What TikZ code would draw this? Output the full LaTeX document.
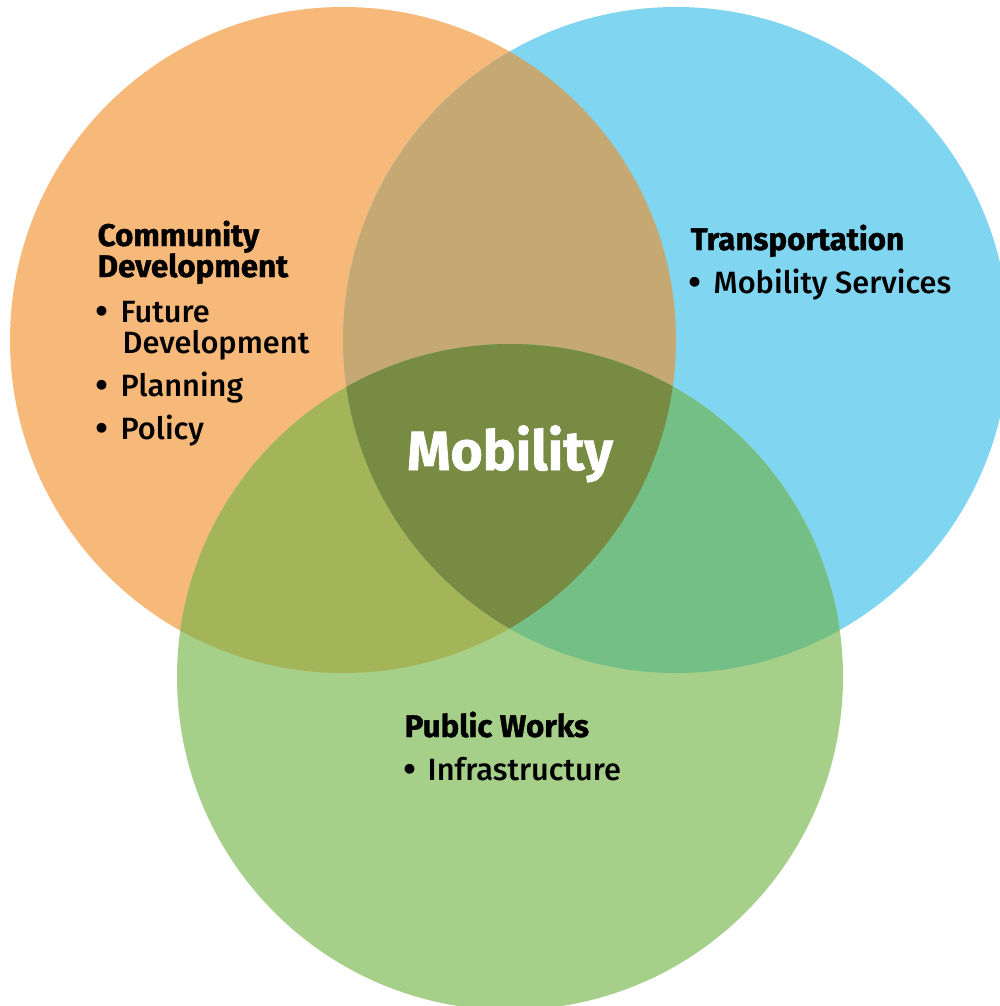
\documentclass[tikz,border=0pt]{standalone}
\usepackage{fontspec}
\setmainfont{Fira Sans}[UprightFont=* Medium, BoldFont=* Bold, BoldFeatures={FakeBold=1.2}]
\definecolor{commorange}{HTML}{F7B97A}
\definecolor{transblue}{HTML}{80D5F0}
\definecolor{worksgreen}{HTML}{A6D08A}
\definecolor{ctmix}{HTML}{C6A873}
\definecolor{cwmix}{HTML}{A4B458}
\definecolor{twmix}{HTML}{74BF86}
\definecolor{allmix}{HTML}{778B42}
\begin{document}
\begin{tikzpicture}[x=0.01cm,y=-0.01cm,
  head/.style={anchor=base west, inner sep=0pt, font=\fontsize{8.9}{10}\selectfont\bfseries},
  item/.style={anchor=base west, inner sep=0pt, font=\fontsize{8.75}{10}\selectfont},
  bullet/.style={anchor=base west, inner sep=0pt, font=\fontsize{11}{10}\selectfont}]
\useasboundingbox (0,0) rectangle (1000,1006);

% Circles
\coordinate (comm) at (343,340);
\coordinate (trans) at (676,340);
\coordinate (works) at (510,677);
\fill[commorange] (comm) circle [radius=333];
\fill[transblue] (trans) circle [radius=333];
\fill[worksgreen] (works) circle [radius=333];

% Overlaps
\begin{scope}
\clip (comm) circle [radius=333];
\fill[ctmix] (trans) circle [radius=333];
\fill[cwmix] (works) circle [radius=333];
\end{scope}
\begin{scope}
\clip (trans) circle [radius=333];
\fill[twmix] (works) circle [radius=333];
\clip (comm) circle [radius=333];
\fill[allmix] (works) circle [radius=333];
\end{scope}

% Community Development
\node[head] (commhead) at (97,246) {Community};
\node[head] (commhead2) at (97,277) {Development};
\node[bullet] (dota) at (95,324) {•};
\node[item] (future) at (120,322) {Future};
\node[item] (future2) at (122,353) {Development};
\node[bullet] (dotb) at (95,398) {•};
\node[item] (planning) at (120,396) {Planning};
\node[bullet] (dotc) at (95,441) {•};
\node[item] (policy) at (120,439) {Policy};

% Transportation
\node[head] (transhead) at (690,250) {Transportation};
\node[bullet] (dotd) at (688,295) {•};
\node[item] (services) at (713,293) {Mobility Services};

% Public Works
\node[head] (workshead) at (404,737) {Public Works};
\node[bullet] (dote) at (403,782) {•};
\node[item] (infra) at (427,780) {Infrastructure};

% Centre
\node[anchor=base, inner sep=0pt, text=white, font=\fontsize{15.7}{18}\selectfont\bfseries] (mobility) at (510,470) {Mobility};
\end{tikzpicture}
\end{document}
